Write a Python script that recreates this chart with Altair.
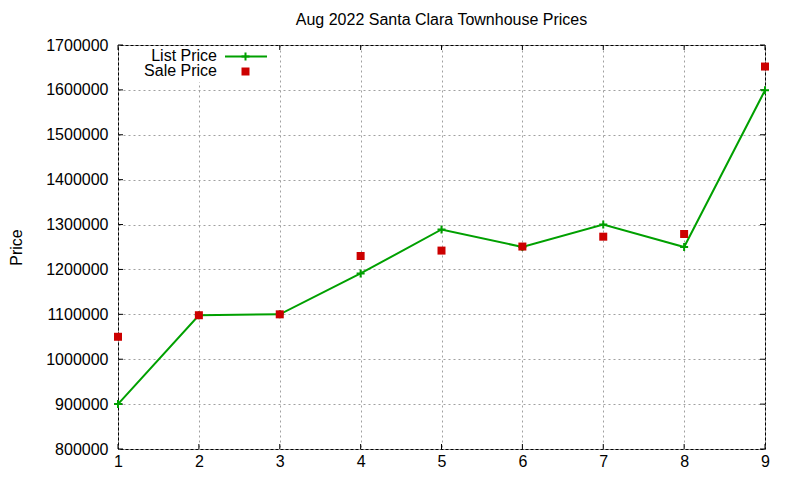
import altair as alt
import pandas as pd

# ---- data ----
days = [1, 2, 3, 4, 5, 6, 7, 8, 9]
list_price = [900000, 1098000, 1100000, 1191000, 1289000, 1250000, 1300000, 1250000, 1599000]
sale_price = [1050000, 1098000, 1100000, 1230000, 1242000, 1251000, 1273000, 1279000, 1652000]
series_names = ["List Price", "Sale Price"]
y_ticks = [800000, 900000, 1000000, 1100000, 1200000, 1300000, 1400000, 1500000, 1600000, 1700000]
x_ticks = days
title_text = "Aug 2022 Santa Clara Townhouse Prices"
y_title = "Price"

GREEN = "#00a000"
RED = "#cc0000"
FONT = "Liberation Sans"
FS = 16
W, H = 647, 404
PLUS = "M-1,0H1M0,-1V1"

list_df = pd.DataFrame({"day": days, "price": list_price})
sale_df = pd.DataFrame({"day": days, "price": sale_price})
ytick_df = pd.DataFrame({"price": y_ticks})
xtick_df = pd.DataFrame({"day": x_ticks})
one = pd.DataFrame({"k": [0]})

xscale = alt.Scale(domain=[1, 9], nice=False, zero=False)
yscale = alt.Scale(domain=[800000, 1700000], nice=False, zero=False)

X = alt.X("day:Q", scale=xscale,
          axis=alt.Axis(values=x_ticks, format="d", title=None, labelPadding=4,
                        grid=True, labelAngle=0, labelFlush=False))
Y = alt.Y("price:Q", scale=yscale,
          axis=alt.Axis(values=y_ticks, format="d", title=y_title, labelPadding=10,
                        titlePadding=21, grid=True, labelFlush=False))

# inward tick marks on all four sides
yt_left = alt.Chart(ytick_df).mark_rule(color="black", strokeWidth=1).encode(
    y=alt.Y("price:Q", scale=yscale), x=alt.value(0), x2=alt.value(5))
yt_right = alt.Chart(ytick_df).mark_rule(color="black", strokeWidth=1).encode(
    y=alt.Y("price:Q", scale=yscale), x=alt.value(W - 5), x2=alt.value(W))
xt_bottom = alt.Chart(xtick_df).mark_rule(color="black", strokeWidth=1).encode(
    x=alt.X("day:Q", scale=xscale), y=alt.value(H - 5), y2=alt.value(H))
xt_top = alt.Chart(xtick_df).mark_rule(color="black", strokeWidth=1).encode(
    x=alt.X("day:Q", scale=xscale), y=alt.value(0), y2=alt.value(5))

# key box (opaque, hides grid)
key_bg = alt.Chart(one).mark_rect(color="white", opacity=1).encode(
    x=alt.value(6), x2=alt.value(157), y=alt.value(1), y2=alt.value(37))

line = alt.Chart(list_df).mark_line(color=GREEN, strokeWidth=2).encode(x=X, y=Y)
plus = alt.Chart(list_df).mark_point(shape=PLUS, filled=False, color=GREEN,
                                     strokeWidth=2, size=64, opacity=1).encode(x="day:Q", y="price:Q")
sale = alt.Chart(sale_df).mark_square(color=RED, size=64, opacity=1).encode(x="day:Q", y="price:Q")

# key entries
k1_text = alt.Chart(one).mark_text(align="right", baseline="middle", font=FONT,
                                   fontSize=FS, color="black").encode(
    text=alt.value(series_names[0]), x=alt.value(99), y=alt.value(11))
k1_line = alt.Chart(one).mark_rule(color=GREEN, strokeWidth=2).encode(
    x=alt.value(107), x2=alt.value(149), y=alt.value(11.5))
k1_plus = alt.Chart(one).mark_point(shape=PLUS, filled=False, color=GREEN,
                                    strokeWidth=2, size=64, opacity=1).encode(
    x=alt.value(127.5), y=alt.value(11.5))
k2_text = alt.Chart(one).mark_text(align="right", baseline="middle", font=FONT,
                                   fontSize=FS, color="black").encode(
    text=alt.value(series_names[1]), x=alt.value(99), y=alt.value(26))
k2_sq = alt.Chart(one).mark_square(color=RED, size=64, opacity=1).encode(
    x=alt.value(127.5), y=alt.value(26.5))

chart = alt.layer(
    line, yt_left, yt_right, xt_bottom, xt_top, key_bg, plus, sale,
    k1_text, k1_line, k1_plus, k2_text, k2_sq
).properties(
    width=W, height=H,
    title=alt.TitleParams(title_text, font=FONT, fontSize=FS, fontWeight="normal",
                          color="black", offset=9, anchor="middle"),
    autosize=alt.AutoSizeParams(type="none"),
    padding={"left": 110, "top": 37, "right": 25, "bottom": 25},
).configure_view(
    stroke="black", strokeWidth=1
).configure_axis(
    labelFont=FONT, labelFontSize=FS, labelColor="black",
    titleFont=FONT, titleFontSize=FS, titleFontWeight="normal", titleColor="black",
    gridColor="#a0a0a0", gridDash=[2, 3], gridWidth=1, gridOpacity=1,
    domain=False, ticks=False,
)

chart.save("out.html", embed_options={"renderer": "svg", "actions": False})
